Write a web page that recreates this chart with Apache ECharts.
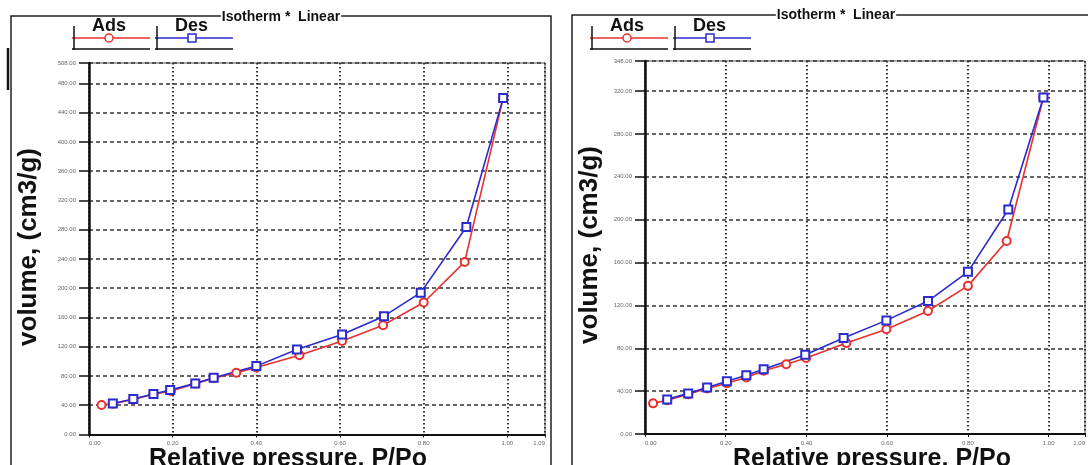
<!DOCTYPE html>
<html><head><meta charset="utf-8">
<script src="https://cdn.jsdelivr.net/npm/echarts@6/dist/echarts.min.js"></script>
<style>html,body{margin:0;padding:0;background:#fff}#c{width:1088px;height:465px}</style>
</head><body><div id="c"></div>
<script>
// ---- data ----
const leftAdsX = [0.03, 0.057, 0.106, 0.154, 0.196, 0.254, 0.298, 0.352, 0.40, 0.503, 0.605, 0.703, 0.80, 0.898, 0.99];
const leftAdsY = [40.3, 42.0, 48.0, 55.0, 59.4, 69.5, 77.0, 84.4, 91.7, 108.5, 128.0, 149.5, 180.5, 236.0, 460.0];
const leftDesX = [0.057, 0.106, 0.154, 0.194, 0.254, 0.298, 0.40, 0.497, 0.605, 0.705, 0.793, 0.902, 0.99];
const leftDesY = [42.5, 48.5, 55.3, 60.8, 69.9, 77.5, 93.5, 116.3, 136.8, 161.8, 194.0, 283.7, 460.0];

const rightAdsX = [0.02, 0.055, 0.107, 0.154, 0.203, 0.251, 0.294, 0.350, 0.399, 0.499, 0.598, 0.701, 0.80, 0.896, 0.987];
const rightAdsY = [28.6, 31.5, 37.0, 42.5, 47.4, 52.8, 59.0, 65.0, 71.0, 84.8, 97.7, 114.8, 138.2, 180.0, 314.0];
const rightDesX = [0.055, 0.107, 0.154, 0.203, 0.251, 0.294, 0.397, 0.492, 0.598, 0.701, 0.80, 0.90, 0.987];
const rightDesY = [32.3, 37.9, 43.4, 49.3, 54.9, 60.5, 74.0, 89.5, 106.0, 124.0, 151.3, 209.4, 314.0];

const xMin = 0, xMax = 1.09, xStep = 0.2;
const leftYMax = 508, rightYMax = 348, yStep = 40;
const seriesNames = ['Ads', 'Des'];
const chartTitle = 'Isotherm *  Linear';
const yTitle = 'volume, (cm3/g)';
const xTitle = 'Relative pressure, P/Po';

const RED = '#e8312c', BLUE = '#2a2ad0';
const pairs = (xs, ys) => xs.map((x, i) => [x, ys[i]]);
const fmt = v => v.toFixed(2);

function xAxisCfg(gi) {
  return {
    type: 'value', gridIndex: gi, min: xMin, max: xMax, interval: xStep,
    axisLine: {show: true, onZero: false, lineStyle: {color: '#111', width: 2}},
    axisTick: {show: true, length: 3, lineStyle: {color: '#111'}},
    axisLabel: {formatter: fmt, fontSize: 6, color: '#666', margin: 6, alignMinLabel: 'left', alignMaxLabel: 'right'},
    splitLine: {show: true, lineStyle: {color: '#333', width: 2, type: [1.5, 2.5]}}
  };
}
function yAxisCfg(gi, max) {
  return {
    type: 'value', gridIndex: gi, min: 0, max: max, interval: yStep,
    axisLine: {show: true, onZero: false, lineStyle: {color: '#111', width: 2.5}},
    axisTick: {show: true, length: 10, lineStyle: {color: '#111', width: 1.5}},
    axisLabel: {formatter: fmt, fontSize: 6, color: '#666', margin: 13},
    splitLine: {show: true, lineStyle: {color: '#333', width: 1.6, type: [4, 3]}}
  };
}
function lineSeries(name, gi, data, color, symbol) {
  return {
    name: name, type: 'line', xAxisIndex: gi, yAxisIndex: gi, data: data,
    symbol: symbol, symbolSize: 8, showSymbol: true,
    lineStyle: {color: color, width: 1.6},
    itemStyle: {color: color, borderWidth: 1.6},
    animation: false
  };
}

function legendGraphics(ox) {
  const g = [];
  const entries = [
    {name: seriesNames[0], x0: ox, color: RED, sym: 'circle'},
    {name: seriesNames[1], x0: ox + 83, color: BLUE, sym: 'rect'}
  ];
  entries.forEach(e => {
    g.push({type: 'line', shape: {x1: e.x0, y1: 38, x2: e.x0 + 78, y2: 38}, style: {stroke: e.color, lineWidth: 1.5}});
    g.push({type: 'line', shape: {x1: e.x0 + 2, y1: 26, x2: e.x0 + 2, y2: 50}, style: {stroke: '#111', lineWidth: 1.5}});
    g.push({type: 'line', shape: {x1: e.x0, y1: 49, x2: e.x0 + 78, y2: 49}, style: {stroke: '#111', lineWidth: 1.5}});
    if (e.sym === 'circle') {
      g.push({type: 'circle', shape: {cx: e.x0 + 37, cy: 38, r: 4}, style: {fill: '#fff', stroke: e.color, lineWidth: 1.5}});
    } else {
      g.push({type: 'rect', shape: {x: e.x0 + 33, y: 34, width: 8, height: 8}, style: {fill: '#fff', stroke: e.color, lineWidth: 1.5}});
    }
    g.push({type: 'text', left: e.x0 + 20, top: 17, style: {text: e.name, font: 'bold 18px "Liberation Sans", Arial, sans-serif', fill: '#111'}});
  });
  return g;
}

const graphics = [
  {type: 'rect', shape: {x: 11, y: 16, width: 540, height: 470}, style: {fill: 'none', stroke: '#222', lineWidth: 1.5}},
  {type: 'rect', shape: {x: 572, y: 15, width: 540, height: 470}, style: {fill: 'none', stroke: '#222', lineWidth: 1.5}},
  {type: 'line', shape: {x1: 8, y1: 48, x2: 8, y2: 90}, style: {stroke: '#111', lineWidth: 2.5}},
  {type: 'text', x: 281, y: 17, style: {text: chartTitle, font: 'bold 14px "Liberation Sans", Arial, sans-serif', fill: '#111', align: 'center', verticalAlign: 'middle', backgroundColor: '#fff', padding: [0, 1]}},
  {type: 'text', x: 836, y: 15, style: {text: chartTitle, font: 'bold 14px "Liberation Sans", Arial, sans-serif', fill: '#111', align: 'center', verticalAlign: 'middle', backgroundColor: '#fff', padding: [0, 1]}},
  {type: 'text', x: 29, y: 247, rotation: Math.PI / 2, style: {text: yTitle, font: 'bold 26px "Liberation Sans", sans-serif', fill: '#111', align: 'center', verticalAlign: 'middle'}},
  {type: 'text', x: 590, y: 245, rotation: Math.PI / 2, style: {text: yTitle, font: 'bold 26px "Liberation Sans", sans-serif', fill: '#111', align: 'center', verticalAlign: 'middle'}},
  {type: 'text', x: 288, y: 459, style: {text: xTitle, font: 'bold 25px "Liberation Sans", Arial, sans-serif', fill: '#111', align: 'center', verticalAlign: 'middle'}},
  {type: 'text', x: 872, y: 459, style: {text: xTitle, font: 'bold 25px "Liberation Sans", Arial, sans-serif', fill: '#111', align: 'center', verticalAlign: 'middle'}}
].concat(legendGraphics(72), legendGraphics(590));

const chart = echarts.init(document.getElementById('c'), null, {renderer: 'canvas'});
chart.setOption({
  backgroundColor: '#fff',
  animation: false,
  grid: [
    {left: 89, top: 63, right: 543, bottom: 30.5, show: true, borderColor: '#555', borderWidth: 1, containLabel: false},
    {left: 645, top: 61, right: -5, bottom: 31, show: true, borderColor: '#555', borderWidth: 1, containLabel: false}
  ],
  xAxis: [xAxisCfg(0), xAxisCfg(1)],
  yAxis: [yAxisCfg(0, leftYMax), yAxisCfg(1, rightYMax)],
  series: [
    lineSeries(seriesNames[0], 0, pairs(leftAdsX, leftAdsY), RED, 'emptyCircle'),
    lineSeries(seriesNames[1], 0, pairs(leftDesX, leftDesY), BLUE, 'emptyRect'),
    lineSeries(seriesNames[0], 1, pairs(rightAdsX, rightAdsY), RED, 'emptyCircle'),
    lineSeries(seriesNames[1], 1, pairs(rightDesX, rightDesY), BLUE, 'emptyRect')
  ],
  graphic: graphics
});
</script>
</body></html>
